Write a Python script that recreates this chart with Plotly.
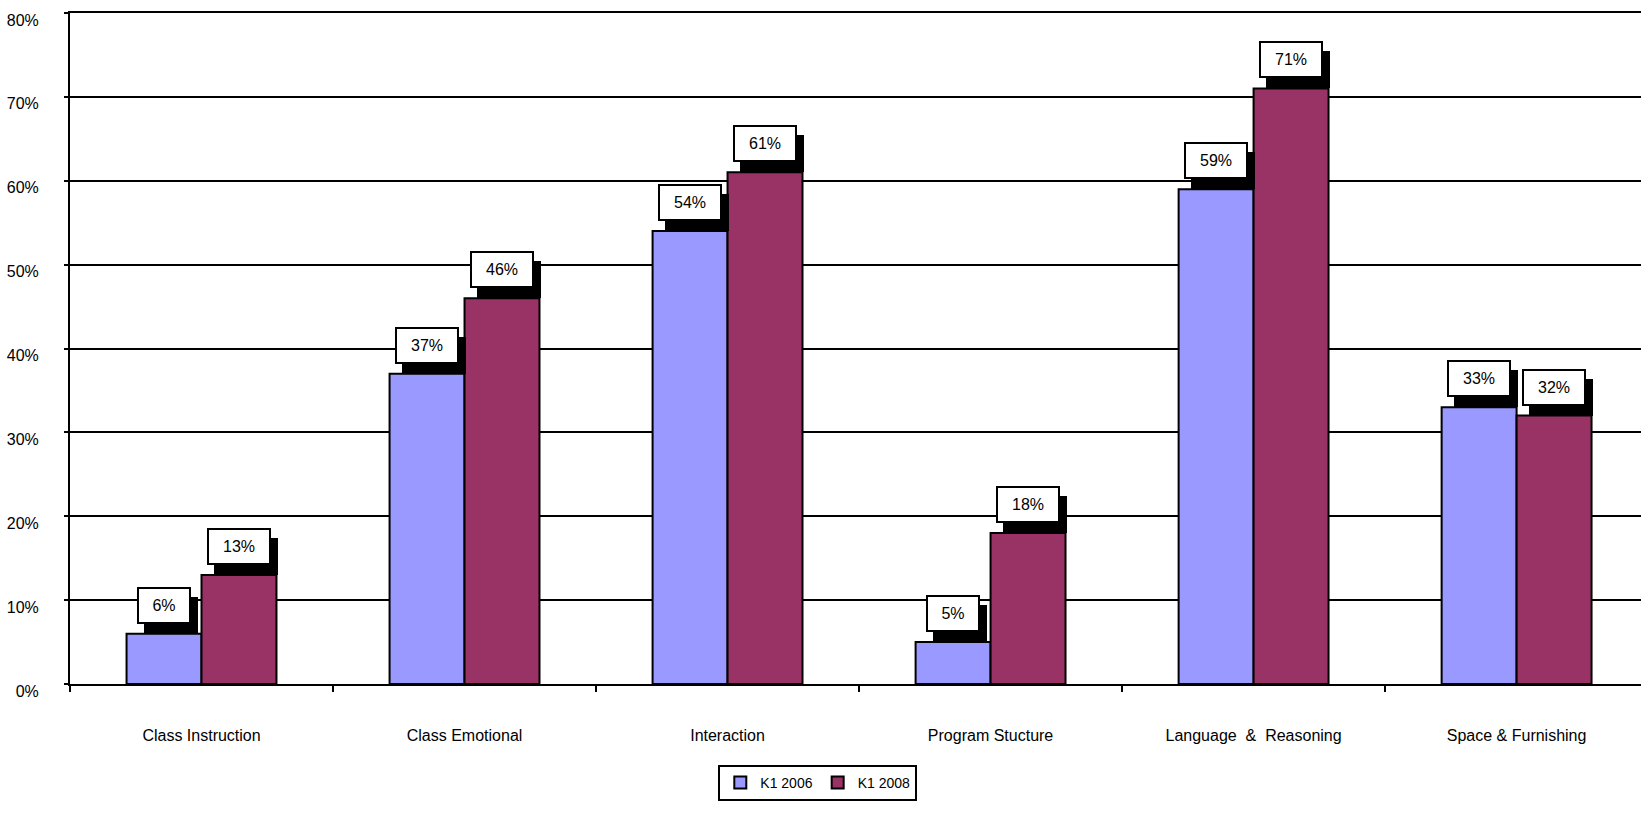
import plotly.graph_objects as go

categories = ["Class Instruction", "Class Emotional", "Interaction",
              "Program Stucture", "Language  &  Reasoning", "Space & Furnishing"]
k1_2006 = [6, 37, 54, 5, 59, 33]
k1_2008 = [13, 46, 61, 18, 71, 32]
series_names = ["K1 2006", "K1 2008"]
y_ticks = [0, 10, 20, 30, 40, 50, 60, 70, 80]
y_tick_labels = [f"{t}%" for t in y_ticks]

W, H = 1641, 813
ML, MR, MT, MB = 70, 0, 13, 129
BARGAP = 0.43
XRANGE = [-0.5, 5.473]
FONT = "Liberation Sans, Arial"

fig = go.Figure()
colors = ["#9999FF", "#993366"]
for name, vals, col in zip(series_names, [k1_2006, k1_2008], colors):
    fig.add_trace(go.Bar(
        x=categories, y=vals, name=name,
        marker=dict(color=col, line=dict(color="black", width=2)),
    ))

plot_w = W - ML - MR
px_per_cat = plot_w / (XRANGE[1] - XRANGE[0])
bar_px = px_per_cat * (1 - BARGAP) / 2

annotations = []
for si, vals in enumerate([k1_2006, k1_2008]):
    shift = (si - 0.5) * bar_px
    for cat, v in zip(categories, vals):
        txt = f"{v}%"
        bw = 50 if len(txt) <= 2 else 60
        common = dict(x=cat, y=v, xref="x", yref="y", showarrow=False,
                      width=bw, height=33, borderpad=0, borderwidth=2,
                      xanchor="center", yanchor="bottom")
        # shadow box
        a = dict(common)
        a.update(text="&nbsp;", bgcolor="black", bordercolor="black",
                 xshift=shift + 7, yshift=0,
                 font=dict(family=FONT, size=16, color="black"))
        annotations.append(a)
        b = dict(common)
        b.update(text=txt, bgcolor="white", bordercolor="black",
                 xshift=shift, yshift=10,
                 font=dict(family=FONT, size=16, color="black"))
        annotations.append(b)

fig.update_layout(
    width=W, height=H,
    margin=dict(l=ML, r=MR, t=MT, b=MB, pad=0),
    paper_bgcolor="white", plot_bgcolor="white",
    barmode="group", bargap=BARGAP, bargroupgap=0,
    font=dict(family=FONT, size=16, color="black"),
    annotations=annotations,
    legend=dict(orientation="h", x=0.476, xanchor="center", y=-0.1207,
                yanchor="top", bordercolor="black", borderwidth=2,
                bgcolor="white", font=dict(size=14), itemwidth=30),
    showlegend=True,
)
fig.update_xaxes(
    type="category", range=XRANGE, showgrid=False,
    showline=True, linecolor="black", linewidth=2, mirror=True,
    ticks="outside", tickson="boundaries", ticklen=6, tickwidth=2,
    tickcolor="black", ticklabelstandoff=36,
    tickfont=dict(size=16),
)
fig.update_yaxes(
    range=[0, 80], tickmode="array", tickvals=y_ticks, ticktext=y_tick_labels,
    showgrid=True, gridcolor="black", gridwidth=2,
    showline=True, linecolor="black", linewidth=2,
    ticks="outside", ticklen=4, tickwidth=2, tickcolor="black",
    ticklabelstandoff=22, ticklabeloverflow="allow", ticklabelshift=7,
    tickfont=dict(size=16), zeroline=False,
)

fig.write_html("out.html")
